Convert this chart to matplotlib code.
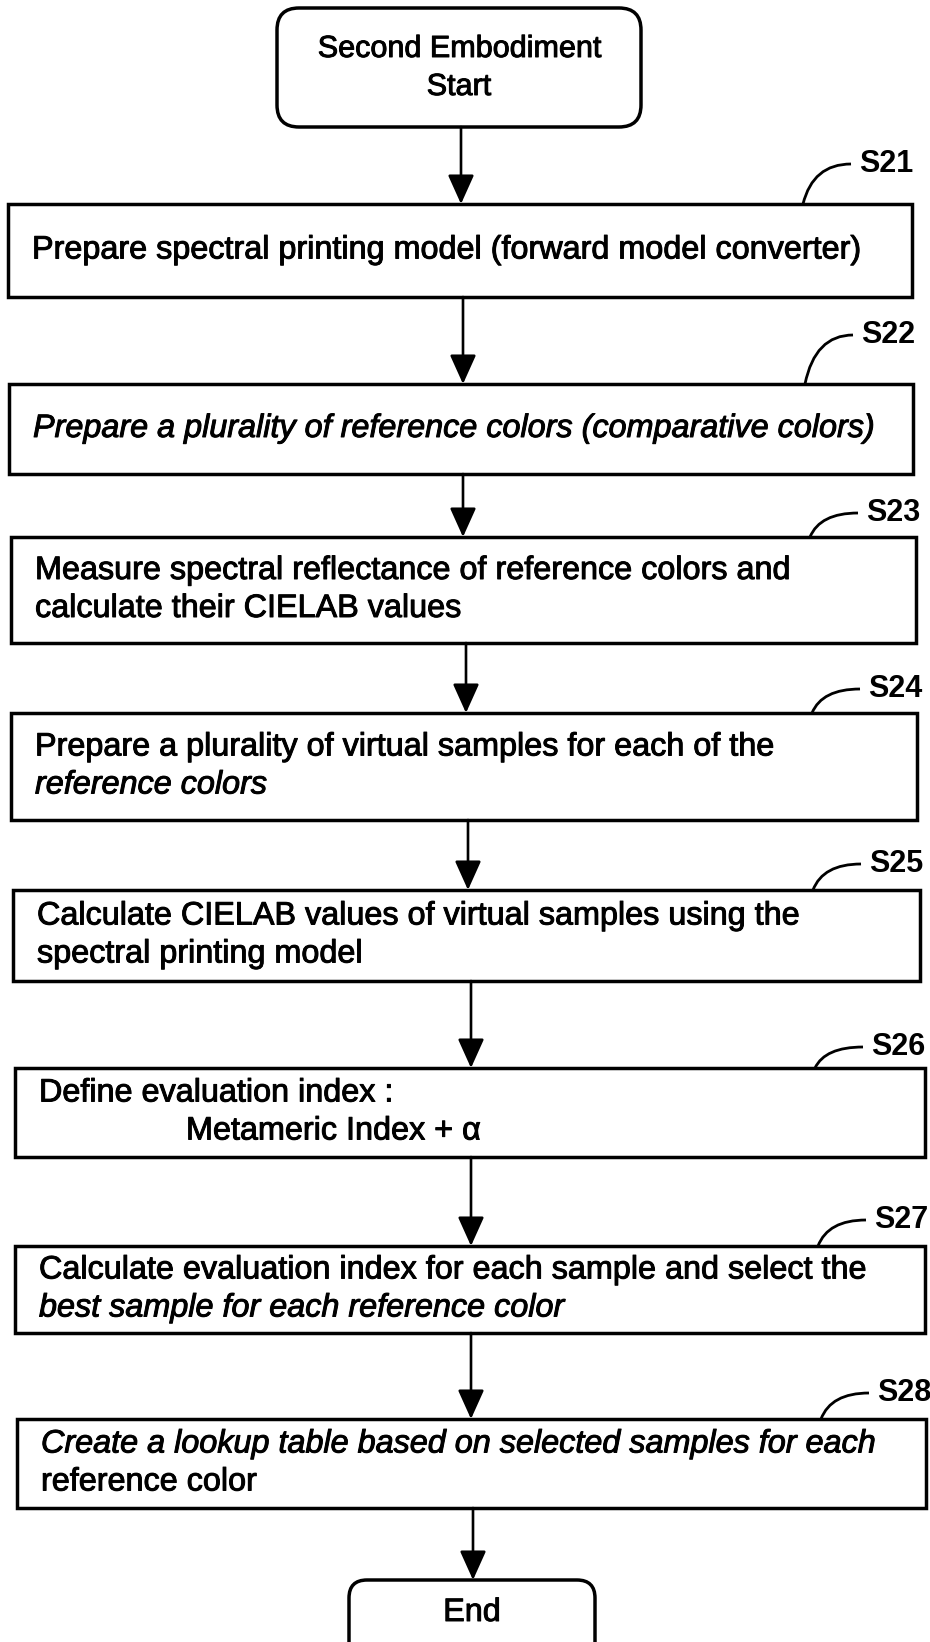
import matplotlib
matplotlib.use("Agg")
import matplotlib.pyplot as plt
import matplotlib.patheffects as pe
from matplotlib.patches import FancyBboxPatch, Rectangle, PathPatch
from matplotlib.path import Path

# ---- data ----
start_lines = ["Second Embodiment", "Start"]
end_label = "End"
step_ids = ["S21", "S22", "S23", "S24", "S25", "S26", "S27", "S28"]
step_lines = [
    ["Prepare spectral printing model (forward model converter)"],
    ["Prepare a plurality of reference colors (comparative colors)"],
    ["Measure spectral reflectance of reference colors and",
     "calculate their CIELAB values"],
    ["Prepare a plurality of virtual samples for each of the",
     "reference colors"],
    ["Calculate CIELAB values of virtual samples using the",
     "spectral printing model"],
    ["Define evaluation index :",
     "Metameric Index + α"],
    ["Calculate evaluation index for each sample and select the",
     "best sample for each reference color"],
    ["Create a lookup table based on selected samples for each",
     "reference color"],
]
italic_lines = {(1, 0), (3, 1), (6, 1), (7, 0)}

# ---- layout (pixel coordinates, y downward) ----
W, H = 930, 1642
boxes = [  # x0, x1, y0, y1
    (8, 912, 204, 297),
    (9, 913, 384, 474),
    (11, 916, 537, 643),
    (11, 917, 713, 820),
    (13, 920, 890, 981),
    (15, 925, 1068, 1157),
    (15, 925, 1246, 1333),
    (17, 926, 1419, 1508),
]
label_pos = [(859, 164), (861, 335), (866, 513), (868, 689),
             (869, 864), (871, 1047), (874, 1220), (877, 1393)]
arrow_x = [461, 463, 463, 466, 468, 471, 471, 471, 473]
start_box = (277, 641, 8, 127)
end_box = (349, 595, 1580, 1660)

FONT = ["Liberation Sans", "DejaVu Sans"]
FS = 23.3
LW = 2.5
HEAVY = [pe.withStroke(linewidth=0.7, foreground="black")]

fig = plt.figure(figsize=(W / 100, H / 100), dpi=100)
ax = fig.add_axes([0, 0, 1, 1])
ax.set_xlim(0, W)
ax.set_ylim(H, 0)
ax.axis("off")


def rounded(b, r):
    x0, x1, y0, y1 = b
    p = FancyBboxPatch((x0, y0), x1 - x0, y1 - y0,
                       boxstyle=f"round,pad=0,rounding_size={r}",
                       fc="white", ec="black", lw=LW, zorder=2)
    ax.add_patch(p)


def arrow(x, y0, y1):
    ax.annotate("", xy=(x, y1), xytext=(x, y0),
                arrowprops=dict(arrowstyle="-|>,head_length=1.0,head_width=0.45",
                                lw=1.9, color="black", shrinkA=0, shrinkB=0,
                                mutation_scale=18),
                zorder=3)


def txt(x, y, s, ha="left", fs=FS, **kw):
    ax.text(x, y, s, ha=ha, va="center", fontsize=fs, family=FONT,
            path_effects=HEAVY, zorder=4, **kw)


# start box
rounded(start_box, 22)
cx = (start_box[0] + start_box[1]) / 2
txt(cx, 49, start_lines[0], ha="center", fs=22)
txt(cx, 87, start_lines[1], ha="center", fs=22)

# steps
prev_bottom = start_box[3]
for i, (sid, lines, b, lp) in enumerate(zip(step_ids, step_lines, boxes, label_pos)):
    x0, x1, y0, y1 = b
    ax.add_patch(Rectangle((x0, y0), x1 - x0, y1 - y0, fc="white", ec="black",
                           lw=LW, zorder=2))
    arrow(arrow_x[i], prev_bottom, y0)
    prev_bottom = y1
    ym = (y0 + y1) / 2
    n = len(lines)
    gap = 38
    for j, ln in enumerate(lines):
        ty = ym + (j - (n - 1) / 2) * gap
        tx = x0 + 24
        if sid == "S26" and j == 1:
            tx = x0 + 171
        style = "italic" if (i, j) in italic_lines else "normal"
        txt(tx, ty, ln, style=style)
    # label and leader
    lx, ly = lp
    ax.text(lx, ly, sid, ha="left", va="center", fontsize=22, family=FONT,
            weight="bold", zorder=4)
    verts = [(lx - 56, y0), (lx - 46, ly), (lx - 8, ly)]
    path = Path(verts, [Path.MOVETO, Path.CURVE3, Path.CURVE3])
    ax.add_patch(PathPatch(path, fc="none", ec="black", lw=2.0, zorder=3))

# end
arrow(arrow_x[-1], prev_bottom, end_box[2])
rounded(end_box, 18)
txt((end_box[0] + end_box[1]) / 2, 1613, end_label, ha="center")

fig.savefig("out.png", dpi=100, facecolor="white")
